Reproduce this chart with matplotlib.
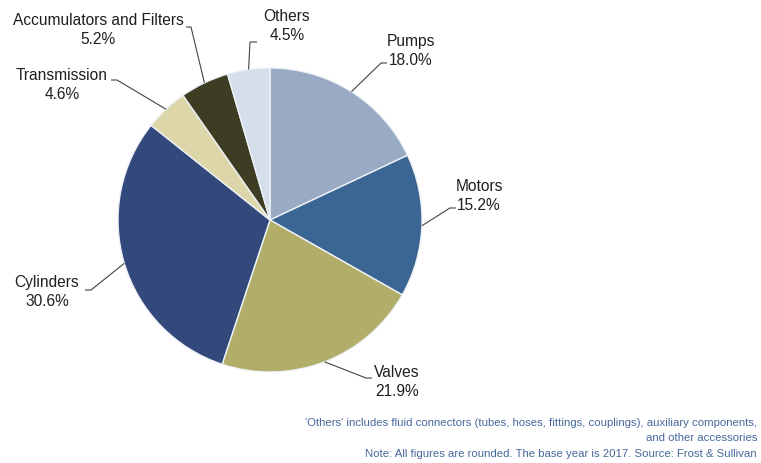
import numpy as np
import matplotlib
matplotlib.use("Agg")
import matplotlib.pyplot as plt

# Market share by product segment (clockwise from 12 o'clock)
SEGMENTS = ["Pumps", "Motors", "Valves", "Cylinders", "Transmission",
            "Accumulators and Filters", "Others"]
SHARES = [18.0, 15.2, 21.9, 30.6, 4.6, 5.2, 4.5]
COLORS = ["#98AAC4", "#3B6592", "#B2AE6A", "#34497B", "#DCD6A8",
          "#3D3D24", "#D5DFEC"]

FOOTNOTES = [
    "'Others' includes fluid connectors (tubes, hoses, fittings, couplings), auxiliary components,",
    "and other accessories",
    "Note: All figures are rounded. The base year is 2017. Source: Frost & Sullivan",
]

W, H = 761, 463
CX, CY, R = 270, 220, 152   # pie centre / radius in pixels (top-left origin)

# label layout in pixels: text centre x, text centre y, elbow x, elbow y, tail x
LABEL_POS = {
    "Pumps": (411, 51, 381, 63, 387),
    "Motors": (479, 196, 450, 208, 456),
    "Valves": (397, 382, 366, 378, 372),
    "Cylinders": (47, 292, 91, 290, 85),
    "Transmission": (62, 85, 117, 80, 111),
    "Accumulators and Filters": (98, 30, 191, 27, 186),
    "Others": (287, 26, 250, 42, 257),
}

TEXT = "#1f1f1f"
NOTE = "#46689A"

plt.rcParams["font.family"] = ["Liberation Sans", "DejaVu Sans"]

fig = plt.figure(figsize=(W / 100, H / 100), dpi=100, facecolor="white")
ax = fig.add_axes([0, 0, 1, 1])


def py(y):
    return H - y


wedges, _ = ax.pie(SHARES, colors=COLORS, startangle=90, counterclock=False,
                   center=(CX, py(CY)), radius=R,
                   wedgeprops=dict(edgecolor="#EEF2F7", linewidth=1.0))
for w in wedges:
    w.set_zorder(2)

ax.set_xlim(0, W)
ax.set_ylim(0, H)
ax.set_aspect("equal")
ax.axis("off")

for w, name, share in zip(wedges, SEGMENTS, SHARES):
    mid = np.deg2rad((w.theta1 + w.theta2) / 2)
    ax_x = CX + R * np.cos(mid)
    ax_y = py(CY) + R * np.sin(mid)
    tx, ty, ex, ey, tail = LABEL_POS[name]
    ax.plot([ax_x, ex, tail], [ax_y, py(ey), py(ey)], color="#444444",
            lw=0.8, zorder=3, solid_capstyle="butt")
    ax.text(tx, py(ty), f"{name}\n{share:.1f}%", ha="center", va="center",
            multialignment="center", fontsize=11.2, color=TEXT,
            linespacing=1.3, zorder=4)

for y, line in zip([423, 438, 454], FOOTNOTES):
    ax.text(757, py(y), line, ha="right", va="center", fontsize=8.2,
            color=NOTE)

fig.savefig("out.png", dpi=100, facecolor="white")
